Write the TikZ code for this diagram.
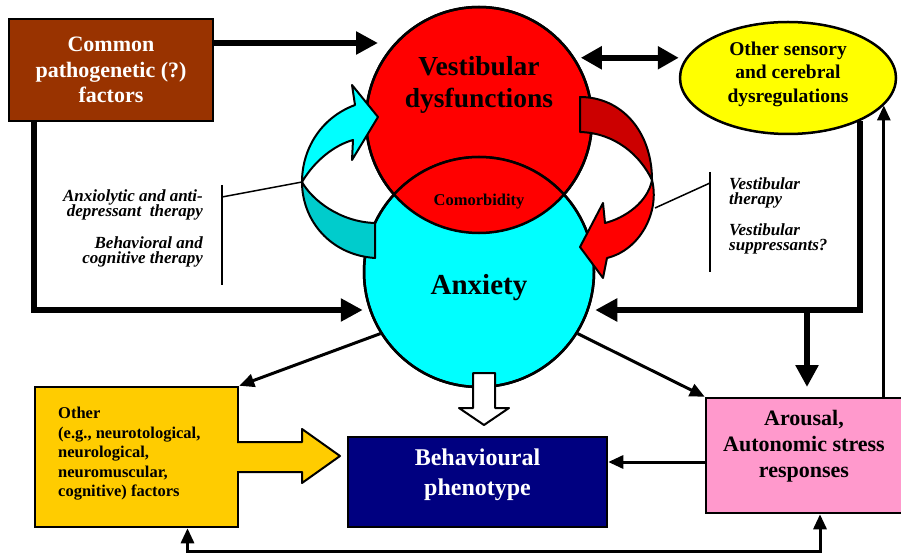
\documentclass[tikz,border=0pt]{standalone}
\usepackage{fontspec}
\setmainfont{Liberation Serif}
\usepackage{tikz}
\usetikzlibrary{calc, arrows.meta, shapes.geometric}
\definecolor{vred}{HTML}{FF0000}
\definecolor{dred}{HTML}{CC0000}
\definecolor{acyan}{HTML}{00FFFF}
\definecolor{dcyan}{HTML}{00CCCC}
\definecolor{pbrown}{HTML}{993300}
\definecolor{pyellow}{HTML}{FFFF00}
\definecolor{ppink}{HTML}{FF99CC}
\definecolor{pnavy}{HTML}{000080}
\definecolor{porange}{HTML}{FFCC00}
\newcommand{\setfs}[2]{%
    % #1: font size
    % #2: baseline skip
    \fontsize{#1}{#2}\selectfont%
}

\begin{document}
\begin{tikzpicture}[x=1pt, y=-1pt]
    \useasboundingbox (0,0) rectangle (901,553);
    % boxes and plain text
    \tikzstyle{box}=[draw, line width=2.5pt, inner sep=0]
    \tikzstyle{txt}=[inner sep=0, font=\bfseries]
    \tikzstyle{ther}=[inner sep=0, font=\setfs{17}{15.5}\bfseries\itshape]
    % arrows
    \tikzstyle{bigarr}=[line width=6pt, -{Triangle[length=22pt,width=22pt]}]
    \tikzstyle{dblarr}=[line width=6pt, {Triangle[length=21pt,width=22pt]}-{Triangle[length=21pt,width=22pt]}]
    \tikzstyle{arr}=[line width=3pt, -{Triangle[length=15pt,width=13pt]}]
    \tikzstyle{band}=[line width=2pt, line join=round]

    % the two circles and their overlap
    \node[circle, draw, line width=2.5pt, fill=vred, minimum size=226pt, inner sep=0] (vest) at (479,120) {};
    \node[circle, draw, line width=2.5pt, fill=acyan, minimum size=230pt, inner sep=0] (anx) at (479,272) {};
    \begin{scope}
        \clip (vest.center) circle[radius=113pt];
        \fill[vred] (anx.center) circle[radius=115pt];
    \end{scope}
    \draw[line width=2.5pt] (vest.center) circle[radius=113pt];
    \draw[line width=2.5pt] (anx.center) circle[radius=115pt];
    \node[txt, font=\setfs{27.5}{32}\bfseries, align=center] (vest-t) at (479,85) {Vestibular\\dysfunctions};
    \node[txt, font=\setfs{16.5}{18}\bfseries] (comor) at (479,202) {Comorbidity};
    \node[txt, font=\setfs{29}{32}\bfseries] (anx-t) at (479,288) {Anxiety};

    % cyan loop arrow
    \filldraw[band, fill=acyan] (355,105) -- (352,85) -- (378,117) -- (352,160) -- (353,140)
        .. controls (335,145) and (315,160) .. (302,182)
        .. controls (302,150) and (320,118) .. (355,105) -- cycle;
    \filldraw[band, fill=dcyan] (302,182) .. controls (302,220) and (330,255) .. (375,258) -- (375,223)
        .. controls (340,222) and (312,200) .. (302,182) -- cycle;
    % red loop arrow
    \filldraw[band, fill=dred] (580,97) .. controls (622,97) and (652,132) .. (652,180)
        .. controls (640,155) and (615,133) .. (580,132) -- cycle;
    \filldraw[band, fill=vred] (652,180) .. controls (660,212) and (640,250) .. (607,258) -- (603,278)
        -- (580,247) -- (603,203) -- (605,223)
        .. controls (625,218) and (648,202) .. (652,180) -- cycle;
    \coordinate (cyanedge) at (302,182);
    \coordinate (rededge) at (655,208);

    % therapies
    \draw[line width=1.5pt] (222,185) -- (222,285);
    \draw[line width=1.5pt] (222,197) -- (cyanedge);
    \node[ther, align=right, anchor=east] (ther1) at (203,205) {Anxiolytic and anti-\\depressant~ therapy};
    \node[ther, align=right, anchor=east] (ther2) at (203,252) {Behavioral and\\cognitive therapy};
    \draw[line width=1.5pt] (710,172) -- (710,272);
    \draw[line width=1.5pt] (710,183) -- (rededge);
    \node[ther, align=left, anchor=west] (ther3) at (729,193) {Vestibular\\therapy};
    \node[ther, align=left, anchor=west] (ther4) at (729,239) {Vestibular\\suppressants?};

    % outer boxes
    \node[box, fill=pbrown, text=white, minimum width=204pt, minimum height=102pt, align=center,
        font=\setfs{22}{25.5}\bfseries] (common) at (111,70) {Common\\pathogenetic (?)\\factors};
    \node[ellipse, draw, line width=2.5pt, fill=pyellow, minimum width=216pt, minimum height=112pt, inner sep=0] (other) at (788,78) {};
    \node[txt, font=\setfs{19.5}{23.5}\bfseries, align=center] (other-t) at (788,74) {Other sensory\\and cerebral\\dysregulations};
    \node[box, fill=ppink, minimum width=196pt, minimum height=115pt] (arousal) at (804,455.5) {};
    \node[txt, font=\setfs{22}{26}\bfseries, align=center] (arousal-t) at (804,446) {Arousal,\\Autonomic stress\\responses};
    \node[box, fill=pnavy, minimum width=259pt, minimum height=90pt] (pheno) at (477.5,482) {};
    \node[txt, text=white, font=\setfs{24}{30}\bfseries, align=center] (pheno-t) at (477.5,475) {Behavioural\\phenotype};
    \node[box, fill=porange, minimum width=203pt, minimum height=140pt] (factors) at (136.5,457) {};
    \node[txt, font=\setfs{16.5}{19.5}\bfseries, align=left, anchor=west] (factors-t) at (58,454)
        {Other\\(e.g., neurotological,\\neurological,\\neuromuscular,\\cognitive) factors};

    % connectors
    \coordinate (vin) at (378,43);
    \draw[bigarr] (common.east |- vin) -- (vin);
    \draw[bigarr] ([xshift=26pt]common.south west) |- (anx.west |- 0,310);
    \draw[dblarr, shorten <=6pt] (vest.33) -- (other.west |- vest.33);
    \draw[bigarr] (other.-31) |- (anx.east |- 0,310);
    \coordinate (split) at (807,310);
    \draw[bigarr] (split) -- ++(0,77);
    \draw[arr] (other.-16 |- arousal.north) -- (other.-16);
    \draw[arr] (anx.212) -- (factors.north east);
    \draw[arr] (anx.-32) -- (arousal.north west);
    \draw[arr] (arousal.west |- 0,462) -- (pheno.east |- 0,462);
    \draw[arr, {Triangle[length=15pt,width=13pt]}-{Triangle[length=15pt,width=13pt]}]
        ([xshift=51pt]factors.south) -- ++(0,23) -| ([xshift=16pt]arousal.south);
    % fat arrows into the phenotype
    \filldraw[band, fill=porange] (237,442) -- (302,442) -- (302,429) -- (340,456) -- (302,483) -- (302,472) -- (237,472);
    \filldraw[band, fill=white] (473,373) -- (495,373) -- (495,408) -- (509,408) -- (484,425) -- (459,408) -- (473,408) -- cycle;
\end{tikzpicture}
\end{document}
